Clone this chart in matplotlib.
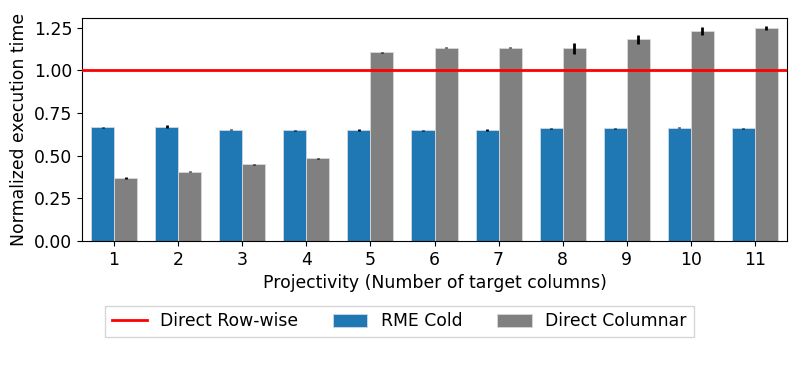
import matplotlib
matplotlib.use("Agg")
import matplotlib.pyplot as plt
import numpy as np

categories = [1, 2, 3, 4, 5, 6, 7, 8, 9, 10, 11]
rme_cold = [0.667, 0.671, 0.653, 0.649, 0.651, 0.649, 0.649, 0.661, 0.661, 0.665, 0.660]
rme_cold_err = [0.004, 0.006, 0.003, 0.003, 0.005, 0.003, 0.005, 0.004, 0.004, 0.005, 0.003]
direct_col = [0.370, 0.405, 0.450, 0.485, 1.105, 1.134, 1.134, 1.129, 1.181, 1.230, 1.246]
direct_col_err = [0.004, 0.003, 0.002, 0.002, 0.002, 0.002, 0.002, 0.032, 0.026, 0.023, 0.012]
row_wise = 1.0

fig = plt.figure(figsize=(8.06, 3.72), dpi=100)
ax = fig.add_axes([82/806, 1-241/372, (787-82)/806, (241-18)/372])

x = np.array(categories, dtype=float)
w = 0.36
ax.bar(x - w/2, rme_cold, w, yerr=rme_cold_err, color='#1f77b4', edgecolor='#d0d8e0',
       linewidth=0.6, error_kw=dict(ecolor='black', elinewidth=2), label='RME Cold', zorder=2)
ax.bar(x + w/2, direct_col, w, yerr=direct_col_err, color='#808080', edgecolor='#d8d8d8',
       linewidth=0.6, error_kw=dict(ecolor='black', elinewidth=2), label='Direct Columnar', zorder=2)
ax.axhline(row_wise, color='red', linewidth=2, label='Direct Row-wise', zorder=3)

fs = 12.4
ax.set_xlim(0.5, 11.5)
ax.set_ylim(0, 1.307)
ax.set_xticks(x)
ax.set_xticklabels([str(c) for c in categories], fontsize=fs)
ax.set_yticks([0, 0.25, 0.5, 0.75, 1.0, 1.25])
ax.set_yticklabels(['0.00', '0.25', '0.50', '0.75', '1.00', '1.25'], fontsize=fs)
ax.set_xlabel('Projectivity (Number of target columns)', fontsize=fs)
ax.set_ylabel('Normalized execution time', fontsize=fs)

h, l = ax.get_legend_handles_labels()
fig.legend(h, l, loc='center',
           bbox_to_anchor=(399.5/806, 1-321.5/372), ncol=3, fontsize=12.4, frameon=True,
           fancybox=False, columnspacing=2.0)

fig.savefig('out.png', dpi=100)
